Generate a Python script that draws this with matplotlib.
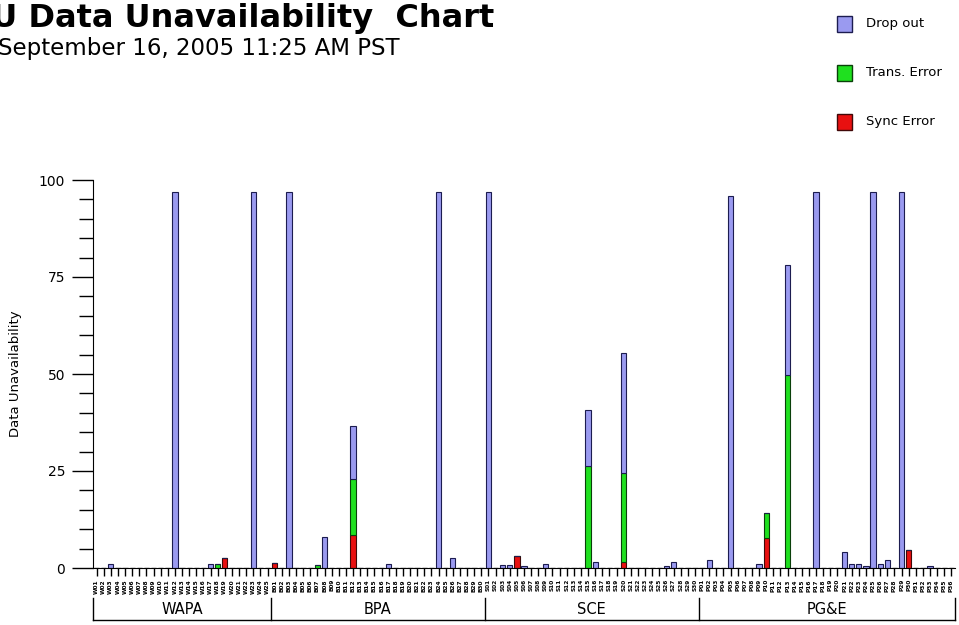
import matplotlib.pyplot as plt
import matplotlib.transforms as mtransforms
from matplotlib.patches import Rectangle

plt.rcParams['font.family'] = ['DejaVu Sans']

# groups of stations along the x axis
groups = ["WAPA", "BPA", "SCE", "PG&E"]
group_sizes = [25, 30, 30, 36]

# data unavailability (%) per station, one list per group
dropout_wapa = [0, 0, 1, 0, 0, 0, 0, 0, 0, 0, 0, 97, 0, 0, 0, 0, 1, 0, 0, 0, 0, 0, 97, 0, 0]
trans_wapa = [0] * 17 + [1] + [0] * 7
sync_wapa = [0] * 18 + [2.6] + [0] * 6

dropout_bpa = [0, 0, 97, 0, 0, 0, 0, 8, 0, 0, 0, 13.7, 0, 0, 0, 0, 1, 0, 0, 0,
               0, 0, 0, 97, 0, 2.6, 0, 0, 0, 0]
trans_bpa = [0, 0, 0, 0, 0, 0, 0.8, 0, 0, 0, 0, 14.5, 0, 0, 0, 0, 0, 0, 0, 0,
             0, 0, 0, 0, 0, 0, 0, 0, 0, 0]
sync_bpa = [1.3, 0, 0, 0, 0, 0, 0, 0, 0, 0, 0, 8.5, 0, 0, 0, 0, 0, 0, 0, 0,
            0, 0, 0, 0, 0, 0, 0, 0, 0, 0]

dropout_sce = [97, 0, 0.7, 0.7, 0, 0.5, 0, 0, 1, 0, 0, 0, 0, 0, 14.4, 1.5, 0, 0, 0, 31,
               0, 0, 0, 0, 0, 0.5, 1.5, 0, 0, 0]
trans_sce = [0, 0, 0, 0, 0, 0, 0, 0, 0, 0, 0, 0, 0, 0, 26.4, 0, 0, 0, 0, 23,
             0, 0, 0, 0, 0, 0, 0, 0, 0, 0]
sync_sce = [0, 0, 0, 0, 3, 0, 0, 0, 0, 0, 0, 0, 0, 0, 0, 0, 0, 0, 0, 1.5,
            0, 0, 0, 0, 0, 0, 0, 0, 0, 0]

dropout_pge = [0, 2, 0, 0, 96, 0, 0, 0, 1, 0, 0, 0, 28.5, 0, 0, 0, 97, 0, 0, 0,
               4.2, 1, 1, 0.5, 97, 1, 2, 0, 97, 0, 0, 0, 0.5, 0, 0, 0]
trans_pge = [0, 0, 0, 0, 0, 0, 0, 0, 0, 6.4, 0, 0, 49.7, 0, 0, 0, 0, 0, 0, 0,
             0, 0, 0, 0, 0, 0, 0, 0, 0, 0, 0, 0, 0, 0, 0, 0]
sync_pge = [0, 0, 0, 0, 0, 0, 0, 0, 0, 7.7, 0, 0, 0, 0, 0, 0, 0, 0, 0, 0,
            0, 0, 0, 0, 0, 0, 0, 0, 0, 4.6, 0, 0, 0, 0, 0, 0]

dropout = dropout_wapa + dropout_bpa + dropout_sce + dropout_pge
trans = trans_wapa + trans_bpa + trans_sce + trans_pge
sync = sync_wapa + sync_bpa + sync_sce + sync_pge

# station tick labels (too small to read in the original)
station_labels = []
for g, n in zip(groups, group_sizes):
    for k in range(n):
        station_labels.append(f"{g[0]}{k + 1:02d}")

colors = {"drop": "#9a9af0", "trans": "#1fe01f", "sync": "#e81010"}
edges = {"drop": "#1c1c50", "trans": "#0a400a", "sync": "#400808"}

fig = plt.figure(figsize=(9.59, 6.25), dpi=100)
ax = fig.add_axes([93 / 959, 1 - 568 / 625, 862 / 959, 388 / 625])

x = list(range(len(dropout)))
base2 = [s + t for s, t in zip(sync, trans)]
ax.bar(x, sync, width=0.75, color=colors["sync"], edgecolor=edges["sync"], linewidth=0.8)
ax.bar(x, trans, width=0.75, bottom=sync, color=colors["trans"], edgecolor=edges["trans"], linewidth=0.8)
ax.bar(x, dropout, width=0.75, bottom=base2, color=colors["drop"], edgecolor=edges["drop"], linewidth=0.8)

ax.set_xlim(-0.5, len(dropout) - 0.5)
ax.set_ylim(0, 100)
ax.set_yticks([0, 25, 50, 75, 100])
ax.set_yticks(range(0, 101, 5), minor=True)
ax.tick_params(axis='y', which='major', length=15, width=1, labelsize=10, pad=5, colors='black')
ax.tick_params(axis='y', which='minor', length=10, width=1)
ax.set_xticks(x)
ax.set_xticklabels(station_labels, rotation=90, fontsize=4.2, fontweight='bold')
ax.tick_params(axis='x', length=6, width=1, pad=2)
ax.set_ylabel("Data Unavailability", fontsize=9.5, labelpad=12)

for s in ["top", "right"]:
    ax.spines[s].set_visible(False)

# group bracket under the station labels
trans_b = mtransforms.blended_transform_factory(ax.transData, ax.transAxes)
y_top = -30 / 388
y_bot = -52 / 388
bounds = [-0.5]
for n in group_sizes:
    bounds.append(bounds[-1] + n)
ax.plot([bounds[0], bounds[-1]], [y_bot, y_bot], color='black', lw=1,
        transform=trans_b, clip_on=False)
for b in bounds:
    ax.plot([b, b], [y_top, y_bot], color='black', lw=1, transform=trans_b, clip_on=False)
for g, a, b in zip(groups, bounds[:-1], bounds[1:]):
    ax.text((a + b) / 2, -42 / 388, g, ha='center', va='center', fontsize=10.5,
            transform=trans_b, clip_on=False)

# titles (left part is cut off in the original)
fig.text(-64 / 959, 1 - 27 / 625, "PMU Data Unavailability  Chart", fontsize=23,
         fontweight='bold', ha='left', va='baseline')
fig.text(-2 / 959, 1 - 48 / 625, "September 16, 2005 11:25 AM PST", fontsize=16.5,
         ha='left', va='center')

# legend drawn as boxes
legend_items = [("Drop out", "drop"), ("Trans. Error", "trans"), ("Sync Error", "sync")]
for k, (name, key) in enumerate(legend_items):
    yc = 24 + k * 49
    fig.add_artist(Rectangle((837 / 959, 1 - (yc + 8) / 625), 15 / 959, 16 / 625,
                             facecolor=colors[key], edgecolor=edges[key], lw=1,
                             transform=fig.transFigure))
    fig.text(866 / 959, 1 - yc / 625, name, fontsize=9.5, ha='left', va='center')

fig.savefig("out.png", dpi=100)
